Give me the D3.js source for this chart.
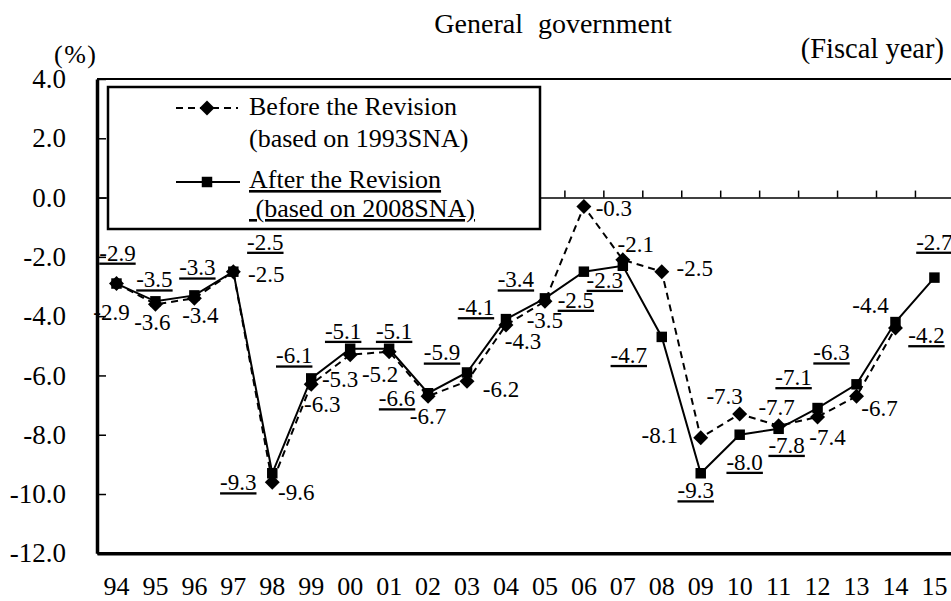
<!DOCTYPE html>
<html>
<head>
<meta charset="utf-8">
<script src="https://cdn.jsdelivr.net/npm/d3@7"></script>
<style>
  body { margin: 0; background: #fff; }
  svg text { font-family: "Liberation Serif", "Times New Roman", serif; fill: #000; }
</style>
</head>
<body>
<svg id="chart"></svg>
<script>
var years = ["94","95","96","97","98","99","00","01","02","03","04","05","06","07","08","09","10","11","12","13","14","15"];
var before = [-2.9,-3.6,-3.4,-2.5,-9.6,-6.3,-5.3,-5.2,-6.7,-6.2,-4.3,-3.5,-0.3,-2.1,-2.5,-8.1,-7.3,-7.7,-7.4,-6.7,-4.4,null];
var after = [-2.9,-3.5,-3.3,-2.5,-9.3,-6.1,-5.1,-5.1,-6.6,-5.9,-4.1,-3.4,-2.5,-2.3,-4.7,-9.3,-8.0,-7.8,-7.1,-6.3,-4.2,-2.7];
var yTicks = [4,2,0,-2,-4,-6,-8,-10,-12];

// where each value label sits relative to its point (dx, dy to baseline)
var beforeLabelPos = [[-5,36],[-3,26],[6,25],[33,10],[24,18],[11,28],[-10,32],[-9,30],[0,28],[34,16],[17,24],[0,27],[30,10],[13,-8],[33,4],[-41,5],[-15,-10],[-2,-11],[10,28],[23,20],[-25,-15],null];
var afterLabelPos = [[1,-23],[-1,-14],[3,-20],[32,-22],[-34,17],[-17,-15],[-7,-10],[5,-10],[-31,13],[-25,-12],[-30,-4],[-29,-11],[-8,36],[-18,22],[-33,26],[-5,25],[5,35],[8,24],[-24,-23],[-25,-24],[31,21],[0,-28]];

var width = 951, height = 601;
var plotLeft = 97, plotTop = 79, plotBottom = 553.3, step = 38.95;

var svg = d3.select("#chart")
    .attr("width", width)
    .attr("height", height);

var xScale = d3.scaleBand()
    .domain(years)
    .range([plotLeft, plotLeft + years.length * step]);
var yScale = d3.scaleLinear()
    .domain([-12, 4])
    .range([plotBottom, plotTop]);
var edge = d3.scaleLinear()
    .domain([0, years.length])
    .range(xScale.range());

var cx = function(i) { return xScale(years[i]) + xScale.bandwidth() / 2; };
var fmt = function(d) { return d.toFixed(1); };

// zero line with small upward ticks at category boundaries
svg.append("g")
    .attr("transform", "translate(0," + yScale(0) + ")")
    .call(d3.axisTop(edge).tickValues(d3.range(1, years.length)).tickSize(7).tickSizeOuter(0).tickFormat(""))
    .call(g => g.selectAll("line, path").attr("stroke", "#000").attr("stroke-width", 1.5));

// top border
svg.append("line")
    .attr("x1", plotLeft).attr("x2", edge(years.length))
    .attr("y1", plotTop).attr("y2", plotTop)
    .attr("stroke", "#000").attr("stroke-width", 2);

// y axis
svg.append("g")
    .attr("transform", "translate(" + plotLeft + ",0)")
    .call(d3.axisLeft(yScale).tickValues(yTicks).tickSizeInner(-9).tickSizeOuter(0).tickPadding(31).tickFormat(fmt))
    .call(g => g.select(".domain").attr("stroke-width", 3.5))
    .call(g => g.selectAll(".tick line").attr("stroke-width", 1.5))
    .call(g => g.selectAll("text").attr("font-size", 27));

// x axis
svg.append("g")
    .attr("transform", "translate(0," + plotBottom + ")")
    .call(d3.axisBottom(xScale).tickSize(0).tickPadding(23))
    .call(g => g.select(".domain").attr("stroke-width", 3.5))
    .call(g => g.selectAll("text").attr("font-size", 26));

// legend box
var legend = svg.append("g");
legend.append("rect")
    .attr("x", 108).attr("y", 87).attr("width", 432).attr("height", 142)
    .attr("fill", "#fff").attr("stroke", "#000").attr("stroke-width", 2.5);

var diamond = d3.symbol(d3.symbolSquare, 112);
var square = d3.symbol(d3.symbolSquare, 110);

// lines
var line = d3.line()
    .defined(d => d != null)
    .x((d, i) => cx(i))
    .y(d => yScale(d));

svg.append("path")
    .datum(before)
    .attr("fill", "none").attr("stroke", "#000").attr("stroke-width", 2)
    .attr("stroke-dasharray", "7,5")
    .attr("d", line);

svg.append("path")
    .datum(after)
    .attr("fill", "none").attr("stroke", "#000").attr("stroke-width", 2)
    .attr("d", line);

svg.append("g").selectAll("path")
    .data(before.map((v, i) => ({v: v, i: i})).filter(d => d.v != null))
    .join("path")
    .attr("d", diamond)
    .attr("transform", d => "translate(" + cx(d.i) + "," + yScale(d.v) + ") rotate(45)");

svg.append("g").selectAll("path")
    .data(after.map((v, i) => ({v: v, i: i})))
    .join("path")
    .attr("d", square)
    .attr("transform", d => "translate(" + cx(d.i) + "," + yScale(d.v) + ")");

// value labels
svg.append("g").selectAll("text")
    .data(before.map((v, i) => ({v: v, i: i})).filter(d => d.v != null))
    .join("text")
    .attr("x", d => cx(d.i) + beforeLabelPos[d.i][0])
    .attr("y", d => yScale(d.v) + beforeLabelPos[d.i][1])
    .attr("text-anchor", "middle")
    .attr("font-size", 23)
    .text(d => fmt(d.v));

svg.append("g").selectAll("text")
    .data(after.map((v, i) => ({v: v, i: i})))
    .join("text")
    .attr("x", d => cx(d.i) + afterLabelPos[d.i][0])
    .attr("y", d => yScale(d.v) + afterLabelPos[d.i][1])
    .attr("text-anchor", "middle")
    .attr("font-size", 23)
    .style("text-decoration", "underline")
    .text(d => fmt(d.v));

// legend entries
legend.append("line")
    .attr("x1", 176).attr("x2", 238).attr("y1", 108).attr("y2", 108)
    .attr("stroke", "#000").attr("stroke-width", 2).attr("stroke-dasharray", "7,5");
legend.append("path").attr("d", diamond).attr("transform", "translate(207,108) rotate(45)");
legend.append("line")
    .attr("x1", 176).attr("x2", 240).attr("y1", 182).attr("y2", 182)
    .attr("stroke", "#000").attr("stroke-width", 2);
legend.append("path").attr("d", square).attr("transform", "translate(207,182)");

legend.append("text").attr("x", 249).attr("y", 115).attr("font-size", 26).text("Before the Revision");
legend.append("text").attr("x", 249).attr("y", 147).attr("font-size", 26).text("(based on 1993SNA)");
legend.append("text").attr("x", 249).attr("y", 188).attr("font-size", 26)
    .style("text-decoration", "underline").text("After the Revision");
legend.append("text").attr("x", 249).attr("y", 217).attr("font-size", 26)
    .style("text-decoration", "underline").style("white-space", "pre").text(" (based on 2008SNA)");

// titles
svg.append("text").attr("x", 553).attr("y", 33).attr("text-anchor", "middle")
    .attr("font-size", 28).attr("word-spacing", 8).text("General government");
svg.append("text").attr("x", 944).attr("y", 58).attr("text-anchor", "end")
    .attr("font-size", 28.5).text("(Fiscal year)");
svg.append("text").attr("x", 54).attr("y", 63)
    .attr("font-size", 26).attr("letter-spacing", 1.5).text("(%)");
</script>
</body>
</html>
